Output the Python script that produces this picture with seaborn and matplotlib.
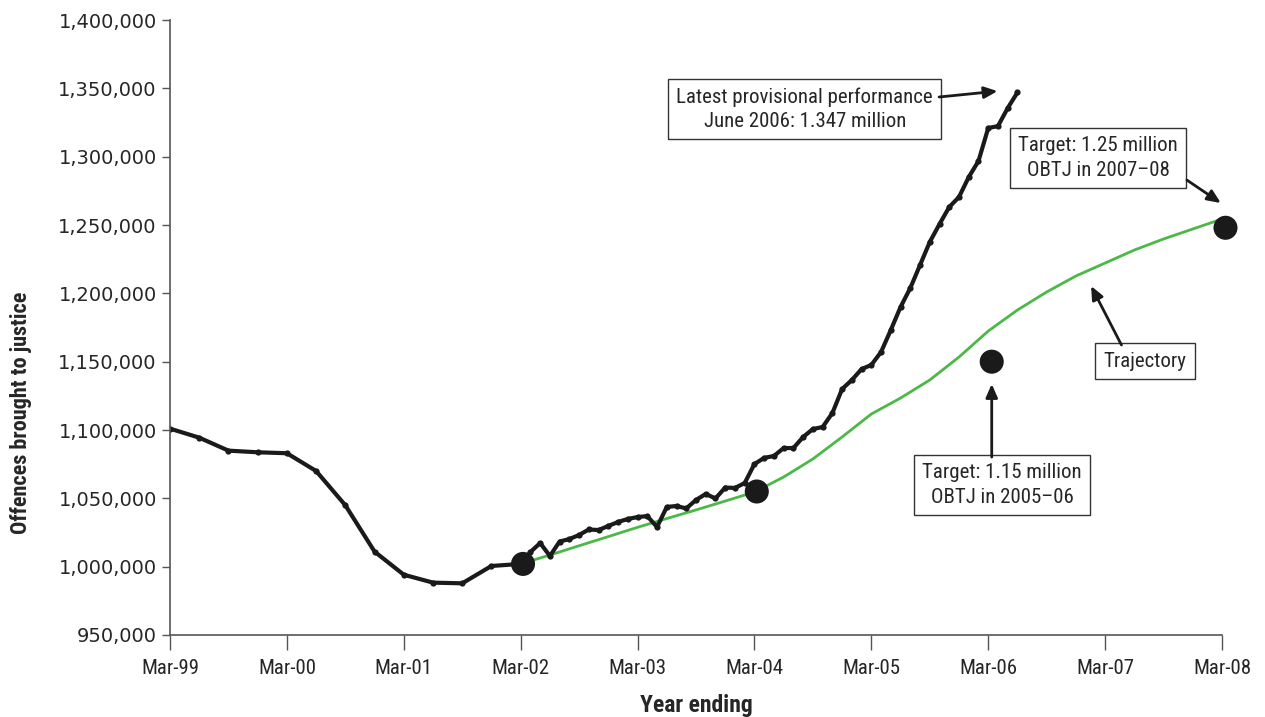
import numpy as np
import pandas as pd
import seaborn as sns
import matplotlib.pyplot as plt
from matplotlib.ticker import FuncFormatter

# x axis labels (one per year, Mar-99 = 0)
year_labels = ['Mar-99', 'Mar-00', 'Mar-01', 'Mar-02', 'Mar-03',
               'Mar-04', 'Mar-05', 'Mar-06', 'Mar-07', 'Mar-08']

# offences brought to justice, quarterly Mar-99 .. Dec-01
obtj_quarterly = [1101000, 1094400, 1084900, 1083700, 1083000, 1070000,
                  1044900, 1011000, 994100, 988300, 987800, 1000500]

# offences brought to justice, monthly Mar-02 .. Jun-06
obtj_monthly = [1002000, 1010700, 1017300, 1007800, 1018400, 1020200, 1023200,
                1027200, 1026800, 1029800, 1032700, 1034900, 1036300, 1037000,
                1029000, 1043700, 1044400, 1042600, 1048800, 1053200, 1049900,
                1057900, 1057600, 1061200, 1075100, 1079600, 1081000, 1086800,
                1086800, 1094900, 1100700, 1102200, 1112400, 1130000, 1136600,
                1144600, 1147600, 1157100, 1173200, 1190000, 1203900, 1220700,
                1237600, 1250700, 1263200, 1270500, 1285100, 1296800, 1321000,
                1322400, 1335600, 1347000]

# trajectory, quarterly Mar-02 .. Mar-08
trajectory = [1002000, 1008500, 1015300, 1022000, 1028800, 1035200, 1041500,
              1048000, 1054600, 1065600, 1078800, 1094900, 1111700, 1123400,
              1136600, 1153400, 1172400, 1187800, 1201000, 1212700, 1222200,
              1231700, 1239800, 1247100, 1254400]

# target / milestone points
target_t = [3.02, 5.02, 7.03, 9.03]
target_v = [1002000, 1055000, 1150000, 1248000]

# build tables
actual = pd.DataFrame({
    't': np.concatenate([np.arange(len(obtj_quarterly)) * 0.25,
                         3 + np.arange(len(obtj_monthly)) / 12]),
    'obtj': obtj_quarterly + obtj_monthly,
})
traj = pd.DataFrame({'t': 3 + np.arange(len(trajectory)) * 0.25,
                     'obtj': trajectory})
targets = pd.DataFrame({'t': target_t, 'obtj': target_v})

sns.set_style('ticks')
plt.rcParams['font.family'] = ['DejaVu Sans']
narrow = ['Liberation Sans Narrow', 'Roboto Condensed', 'DejaVu Sans']

fig = plt.figure(figsize=(12.65, 7.17), dpi=100)
ax = fig.add_axes([0.1344, 0.1144, 0.8316, 0.8576])

sns.lineplot(data=traj, x='t', y='obtj', color='#4cb848', linewidth=2, ax=ax)
sns.lineplot(data=actual, x='t', y='obtj', color='#1a1a1a', linewidth=3,
             marker='o', markersize=4.5, markeredgewidth=0, ax=ax)
sns.scatterplot(data=targets, x='t', y='obtj', color='#1a1a1a', s=300,
                edgecolor='none', ax=ax, zorder=5, clip_on=False)

ax.set_xlim(0, 9)
ax.set_ylim(950000, 1400000)
ax.set_xticks(range(10))
ax.set_xticklabels(year_labels, fontsize=15, family=narrow)
ax.set_yticks(np.arange(950000, 1400001, 50000))
ax.yaxis.set_major_formatter(FuncFormatter(lambda v, p: f'{int(v):,}'))
for lab in ax.get_yticklabels():
    lab.set_family('DejaVu Sans')
ax.tick_params(axis='y', labelsize=14, length=6, color='#555555', width=1)
ax.tick_params(axis='x', length=11, color='#555555', width=1, pad=6)
for s in ['top', 'right']:
    ax.spines[s].set_visible(False)
for s in ['left', 'bottom']:
    ax.spines[s].set_color('#555555')
    ax.spines[s].set_linewidth(1.2)

ax.set_xlabel('Year ending', fontsize=17, fontweight='bold', family=narrow,
              labelpad=12)
ax.set_ylabel('Offences brought to justice', fontsize=16, fontweight='bold',
              family=narrow)
ax.yaxis.set_label_coords(-0.131, 0.361)

# annotation boxes and arrows
box = dict(boxstyle='square,pad=0.4', fc='white', ec='#333333', lw=1)
arrow = dict(arrowstyle='-|>,head_length=0.8,head_width=0.35', color='#1a1a1a',
             lw=2, shrinkA=0, shrinkB=0)
txt = dict(fontsize=15, family=narrow, ha='center', va='center',
           linespacing=1.35, bbox=box)

ax.text(5.43, 1334900, 'Latest provisional performance\nJune 2006: 1.347 million', **txt)
ax.annotate('', xy=(7.08, 1348000), xytext=(6.58, 1343700), arrowprops=arrow)

ax.text(7.94, 1299000, 'Target: 1.25 million\nOBTJ in 2007\u201308', **txt)
ax.annotate('', xy=(8.99, 1266100), xytext=(8.70, 1282900), arrowprops=arrow,
            annotation_clip=False)

ax.text(8.34, 1150500, 'Trajectory', **txt)
ax.annotate('', xy=(7.88, 1205400), xytext=(8.14, 1162200), arrowprops=arrow)

ax.text(7.12, 1059800, 'Target: 1.15 million\nOBTJ in 2005\u201306', **txt)
ax.annotate('', xy=(7.03, 1133700), xytext=(7.03, 1080200), arrowprops=arrow)

fig.savefig('out.png', dpi=100)
